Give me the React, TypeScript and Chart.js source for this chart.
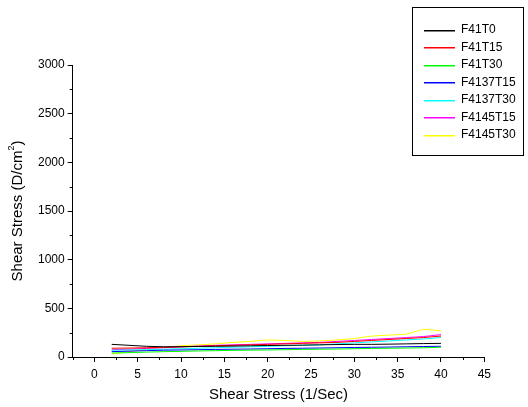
import React, { useEffect, useRef } from "react";
import { Chart, registerables } from "chart.js";

Chart.register(...registerables);

const xValues = [2, 4, 6, 8, 10, 12, 14, 16, 18, 20, 22, 24, 26, 28, 30, 32, 34, 36, 38, 40];

const seriesNames = ["F41T0", "F41T15", "F41T30", "F4137T15", "F4137T30", "F4145T15", "F4145T30"];
const seriesColors = ["#000000", "#ff0000", "#00ff00", "#0000ff", "#00ffff", "#ff00ff", "#ffff00"];

const f41t0 = [130, 120, 110, 105, 105, 108, 110, 112, 115, 118, 120, 122, 125, 128, 130, 130, 132, 135, 138, 140];
const f41t15 = [90, 92, 95, 100, 105, 110, 115, 120, 125, 130, 135, 140, 145, 150, 160, 170, 180, 190, 200, 215];
const f41t30 = [40, 45, 50, 55, 58, 62, 65, 68, 70, 72, 75, 78, 80, 82, 85, 88, 90, 92, 95, 100];
const f4137t15 = [55, 60, 65, 70, 72, 75, 78, 80, 82, 85, 88, 90, 92, 95, 98, 100, 102, 105, 108, 110];
const f4137t30 = [70, 72, 75, 80, 85, 90, 95, 100, 105, 110, 115, 120, 125, 135, 145, 155, 165, 175, 185, 200];
const f4145t15 = [75, 80, 88, 95, 105, 112, 120, 125, 130, 135, 140, 145, 150, 160, 170, 180, 190, 200, 210, 230];
const f4145t30 = [30, 55, 80, 100, 115, 125, 135, 150, 160, 175, 170, 160, 165, 175, 190, 215, 225, 235, 285, 270];

const seriesValues = [f41t0, f41t15, f41t30, f4137t15, f4137t30, f4145t15, f4145t30];

const xMajorTicks = [0, 5, 10, 15, 20, 25, 30, 35, 40, 45];
const xMinorTicks = [-2.5, 2.5, 7.5, 12.5, 17.5, 22.5, 27.5, 32.5, 37.5, 42.5];
const yMajorTicks = [0, 500, 1000, 1500, 2000, 2500, 3000];
const yMinorTicks = [250, 750, 1250, 1750, 2250, 2750];

const xTitle = "Shear Stress (1/Sec)";
const yTitle = "Shear Stress (D/cm";
const FONT = "Arial, 'Liberation Sans', sans-serif";

const decorPlugin = {
  id: "decor",
  afterDraw(chart: any) {
    const ctx = chart.ctx;
    const xs = chart.scales.x;
    const ys = chart.scales.y;
    const area = chart.chartArea;
    ctx.save();
    ctx.strokeStyle = "#000";
    ctx.lineWidth = 1;
    ctx.beginPath();
    xMinorTicks.forEach((v) => {
      const px = Math.round(xs.getPixelForValue(v)) + 0.5;
      ctx.moveTo(px, area.bottom);
      ctx.lineTo(px, area.bottom + 3);
    });
    yMinorTicks.forEach((v) => {
      const py = Math.round(ys.getPixelForValue(v)) + 0.5;
      ctx.moveTo(area.left, py);
      ctx.lineTo(area.left - 3, py);
    });
    ctx.stroke();

    ctx.fillStyle = "#000";
    ctx.font = `15px ${FONT}`;
    ctx.textAlign = "center";
    ctx.textBaseline = "middle";
    ctx.fillText(xTitle, (area.left + area.right) / 2, 395);

    ctx.translate(18, (area.top + area.bottom) / 2);
    ctx.rotate(-Math.PI / 2);
    const mainW = ctx.measureText(yTitle).width;
    ctx.font = `9px ${FONT}`;
    const supW = ctx.measureText("2").width;
    ctx.font = `15px ${FONT}`;
    const closeW = ctx.measureText(")").width;
    const total = mainW + supW + closeW;
    ctx.textAlign = "left";
    let cx = -total / 2;
    ctx.fillText(yTitle, cx, 0);
    cx += mainW;
    ctx.font = `9px ${FONT}`;
    ctx.fillText("2", cx, -6);
    cx += supW;
    ctx.font = `15px ${FONT}`;
    ctx.fillText(")", cx, 0);
    ctx.restore();

    ctx.save();
    ctx.strokeStyle = "#000";
    ctx.lineWidth = 1;
    ctx.strokeRect(412.5, 7.5, 111, 148);
    ctx.font = `12px ${FONT}`;
    ctx.textAlign = "left";
    ctx.textBaseline = "middle";
    chart.data.datasets.forEach((ds: any, i: number) => {
      const y = 29.5 + i * 17.5;
      ctx.fillStyle = ds.borderColor;
      ctx.fillRect(424, Math.round(y), 31, 1.5);
      ctx.fillStyle = "#000";
      ctx.fillText(ds.label, 461, y + 0.5);
    });
    ctx.restore();
  },
};

export default function App() {
  const ref = useRef<HTMLCanvasElement>(null);
  useEffect(() => {
    if (!ref.current) return;
    const chart = new Chart(ref.current, {
      type: "line",
      data: {
        datasets: seriesNames.map((name, i) => ({
          label: name,
          data: xValues.map((x, j) => ({ x, y: seriesValues[i][j] })),
          borderColor: seriesColors[i],
          backgroundColor: seriesColors[i],
          borderWidth: 1,
          pointRadius: 0,
          tension: 0,
          fill: false,
        })),
      },
      options: {
        animation: false,
        responsive: false,
        devicePixelRatio: 1,
        layout: { padding: { left: 0, top: 65, right: 43.7, bottom: 0 } },
        plugins: { legend: { display: false }, tooltip: { enabled: false } },
        scales: {
          x: {
            type: "linear",
            min: -2.5,
            max: 45,
            afterBuildTicks: (s: any) => {
              s.ticks = xMajorTicks.map((v) => ({ value: v }));
            },
            afterFit: (s: any) => {
              s.height = 50;
            },
            grid: { drawOnChartArea: false, drawTicks: true, tickLength: 5, color: "#000" },
            border: { display: true, color: "#000", width: 1 },
            ticks: {
              color: "#000",
              font: { family: FONT, size: 12 },
              padding: 5,
              maxRotation: 0,
              callback: (v: any) => String(v),
            },
          },
          y: {
            type: "linear",
            min: 0,
            max: 3000,
            afterBuildTicks: (s: any) => {
              s.ticks = yMajorTicks.map((v) => ({ value: v }));
            },
            afterFit: (s: any) => {
              s.width = 72.7;
            },
            grid: { drawOnChartArea: false, drawTicks: true, tickLength: 5, color: "#000" },
            border: { display: true, color: "#000", width: 1 },
            ticks: {
              color: "#000",
              font: { family: FONT, size: 12 },
              padding: 3,
              callback: (v: any) => String(v),
            },
          },
        },
      },
      plugins: [decorPlugin],
    });
    return () => chart.destroy();
  }, []);
  return (
    <div style={{ position: "fixed", left: 0, top: 0, width: 528, height: 407, background: "#fff" }}>
      <canvas ref={ref} width={528} height={407} style={{ width: 528, height: 407, display: "block" }} />
    </div>
  );
}
